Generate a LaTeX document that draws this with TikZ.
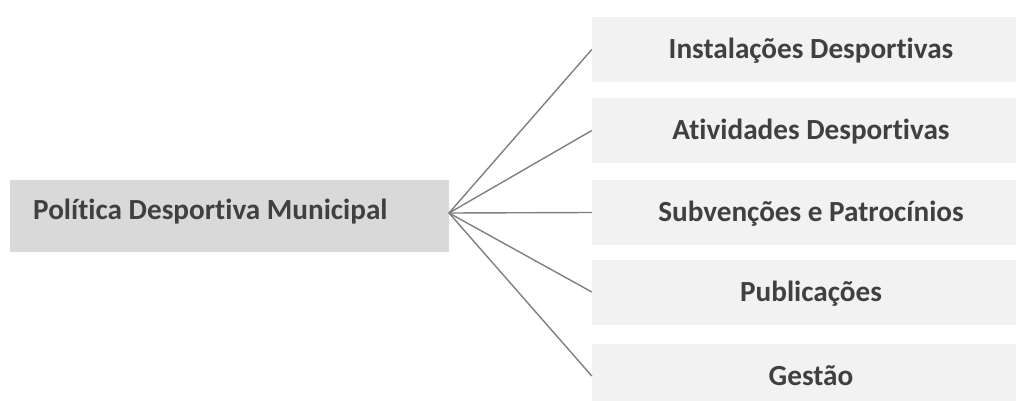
\documentclass[tikz,border=0pt]{standalone}
\usepackage{fontspec}
\setmainfont{Carlito}[Ligatures=NoCommon]
\definecolor{leftfill}{HTML}{D9D9D9}
\definecolor{rightfill}{HTML}{F2F2F2}
\definecolor{txt}{HTML}{404040}
\definecolor{conn}{HTML}{7F7F7F}
\begin{document}
\begin{tikzpicture}[x=1pt,y=-1pt,
  mainbox/.style={draw=none,fill=leftfill,minimum width=439pt,minimum height=72pt,inner sep=0pt},
  subbox/.style={draw=none,fill=rightfill,minimum width=438pt,minimum height=65pt,inner sep=0pt},
  lbl/.style={text=txt,font=\fontsize{29.2}{35}\selectfont\bfseries,inner sep=0pt},
  conline/.style={draw=conn,line width=1.4pt}]
\useasboundingbox (0,0) rectangle (1016,401);
\clip (0,0) rectangle (1016,401);
\node[mainbox] (L) at (229.5,216) {};
\node[lbl,anchor=base west] (Lt) at (33,219.5) {Política Desportiva Municipal};
\coordinate (hub) at (449,213);
\node[subbox] (R1) at (811,49.5) {};
\node[subbox] (R2) at (811,130.5) {};
\node[subbox] (R3) at (811,212.5) {};
\node[subbox] (R4) at (811,292) {};
\node[subbox] (R5) at (811,376) {};
\node[lbl,anchor=base] (T1) at (811,58.5) {Instalações Desportivas};
\node[lbl,anchor=base] (T2) at (811,139.5) {Atividades Desportivas};
\node[lbl,anchor=base] (T3) at (811,221) {Subvenções e Patrocínios};
\node[lbl,anchor=base] (T4) at (811,301) {Publicações};
\node[lbl,anchor=base] (T5) at (811,385) {Gestão};
\foreach \i in {1,...,5}{\draw[conline] (hub) -- (R\i.west);}
\end{tikzpicture}
\end{document}
